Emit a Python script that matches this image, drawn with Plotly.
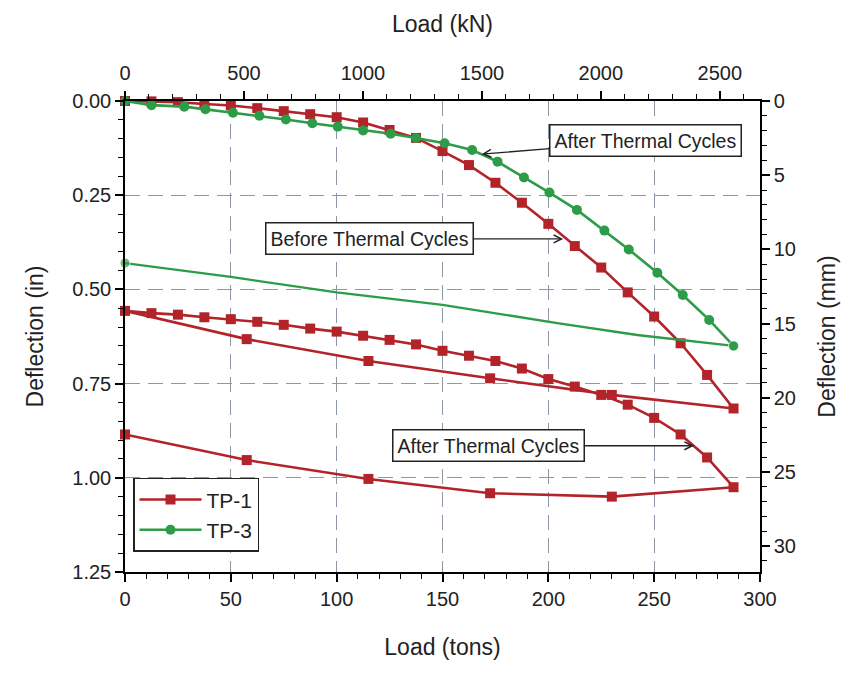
import plotly.graph_objects as go

KN_PER_TON = 8.896   # short ton -> kN
MM_PER_IN = 25.4

# ---- TP-1 ----------------------------------------------------------------
# first loading (before thermal cycles)
tp1_load_a = [0, 12.5, 25, 37.5, 50, 62.5, 75, 87.5, 100, 112.5, 125, 137.5,
              150, 162.5, 175, 187.5, 200, 212.5, 225, 237.5, 250, 262.5, 275, 287.5]
tp1_defl_a = [0.000, 0.001, 0.003, 0.008, 0.012, 0.019, 0.027, 0.035, 0.043, 0.057,
              0.077, 0.098, 0.133, 0.170, 0.217, 0.270, 0.326, 0.385, 0.442, 0.508,
              0.572, 0.643, 0.727, 0.816]
# first unloading
tp1_load_b = [230, 172.5, 115, 57.5, 0]
tp1_defl_b = [0.780, 0.736, 0.690, 0.632, 0.557]
# reloading (after thermal cycles)
tp1_load_c = [12.5, 25, 37.5, 50, 62.5, 75, 87.5, 100, 112.5, 125, 137.5,
              150, 162.5, 175, 187.5, 200, 212.5, 225, 237.5, 250, 262.5, 275, 287.5]
tp1_defl_c = [0.563, 0.567, 0.574, 0.579, 0.586, 0.594, 0.604, 0.612, 0.623, 0.634,
              0.646, 0.663, 0.676, 0.690, 0.710, 0.738, 0.758, 0.780, 0.806, 0.841,
              0.885, 0.946, 1.025]
# final unloading
tp1_load_d = [230, 172.5, 115, 57.5, 0]
tp1_defl_d = [1.050, 1.041, 1.003, 0.953, 0.885]

# ---- TP-3 ----------------------------------------------------------------
tp3_load = [0, 12.5, 28, 38, 51, 63.5, 76, 88.5, 100.5, 112.5, 125.5, 137.5,
            151, 164, 176, 188.5, 200.5, 213.5, 226.5, 238, 251.5, 263.5, 276, 287.5]
tp3_defl = [0.000, 0.011, 0.015, 0.022, 0.031, 0.039, 0.049, 0.059, 0.068, 0.078,
            0.087, 0.098, 0.112, 0.130, 0.161, 0.203, 0.243, 0.289, 0.344, 0.394,
            0.456, 0.515, 0.581, 0.650]
tp3_unload_load = [287.5, 242, 205, 150, 100, 50, 0]
tp3_unload_defl = [0.650, 0.621, 0.590, 0.541, 0.508, 0.467, 0.430]

# ---- axis ticks ----------------------------------------------------------
ton_ticks = [0, 50, 100, 150, 200, 250, 300]
kn_ticks = [0, 500, 1000, 1500, 2000, 2500]
in_ticks = [0.0, 0.25, 0.5, 0.75, 1.0, 1.25]
mm_ticks = [0, 5, 10, 15, 20, 25, 30]

RED = "#b3232a"
GREEN = "#2c9c48"
FONT = "Liberation Sans, Arial, sans-serif"
GRID = "#8d96a5"

tp1_x = tp1_load_a + tp1_load_b + tp1_load_c + tp1_load_d
tp1_y = tp1_defl_a + tp1_defl_b + tp1_defl_c + tp1_defl_d

fig = go.Figure()
fig.add_trace(go.Scatter(
    x=tp1_x, y=tp1_y, name="TP-1", mode="lines+markers", cliponaxis=False,
    line=dict(color=RED, width=2.6),
    marker=dict(symbol="square", size=10, color=RED)))
fig.add_trace(go.Scatter(
    x=tp3_load, y=tp3_defl, name="TP-3", mode="lines+markers", cliponaxis=False,
    line=dict(color=GREEN, width=2.6),
    marker=dict(symbol="circle", size=10, color=GREEN)))
fig.add_trace(go.Scatter(
    x=tp3_unload_load, y=tp3_unload_defl, mode="lines+markers", showlegend=False,
    cliponaxis=False, line=dict(color=GREEN, width=2.3),
    marker=dict(symbol="circle", color=GREEN,
                size=[10 if i in (0, len(tp3_unload_load) - 1) else 0
                      for i in range(len(tp3_unload_load))])))
# registers the secondary (kN / mm) axes
fig.add_trace(go.Scatter(x=[None], y=[None], xaxis="x2", yaxis="y2",
                         showlegend=False, hoverinfo="skip"))

tick_font = dict(family=FONT, size=20, color="#222")
title_font = dict(family=FONT, size=23, color="#222")
common = dict(showline=True, linecolor="black", linewidth=1.5, ticks="outside",
              ticklen=8, tickwidth=1.5, tickcolor="black", tickfont=tick_font,
              zeroline=False)

fig.update_layout(
    width=852, height=681,
    margin=dict(l=125, r=92, t=101, b=109, autoexpand=False),
    paper_bgcolor="white", plot_bgcolor="white",
    font=dict(family=FONT, color="#222"),
    xaxis=dict(range=[0, 300], tickvals=ton_ticks, **common,
               title=dict(text="Load (tons)", font=title_font, standoff=30),
               showgrid=True, gridcolor=GRID, gridwidth=1.3, griddash="15px,8px",
               minor=dict(dtick=10, tick0=0, ticks="outside", ticklen=5,
                          tickwidth=1.2, tickcolor="black", showgrid=False)),
    xaxis2=dict(range=[0, 300 * KN_PER_TON], tickvals=kn_ticks, overlaying="x",
                side="top", anchor="y", **common, showgrid=False,
                ticklabelstandoff=3,
                title=dict(text="Load (kN)", font=title_font, standoff=23),
                minor=dict(dtick=100, tick0=0, ticks="outside", ticklen=5,
                           tickwidth=1.2, tickcolor="black", showgrid=False)),
    yaxis=dict(range=[1.25, 0], tickvals=in_ticks, tickformat=".2f", **common,
               title=dict(text="Deflection (in)", font=title_font, standoff=22),
               showgrid=True, gridcolor=GRID, gridwidth=1.3, griddash="15px,8px",
               minor=dict(dtick=0.05, tick0=0, ticks="outside", ticklen=5,
                          tickwidth=1.2, tickcolor="black", showgrid=False)),
    yaxis2=dict(range=[1.25 * MM_PER_IN, 0], tickvals=mm_ticks, overlaying="y",
                side="right", anchor="x", **common, showgrid=False,
                title=dict(text="Deflection (mm)", font=title_font, standoff=24),
                minor=dict(dtick=1, tick0=0, ticks="outside", ticklen=5,
                           tickwidth=1.2, tickcolor="black", showgrid=False)),
    legend=dict(x=0.0126, y=0.2, xanchor="left", yanchor="top",
                bgcolor="white", bordercolor="#222", borderwidth=1.5,
                font=dict(family=FONT, size=21, color="#222"),
                itemwidth=62),
    showlegend=True,
)

box = dict(showarrow=True, arrowhead=5, arrowsize=1.1, arrowwidth=1.4,
           arrowcolor="#222", bgcolor="white", bordercolor="#222",
           borderwidth=1.5, borderpad=4,
           font=dict(family=FONT, size=19.5, color="#222"),
           xref="x", yref="y", axref="x", ayref="y")
fig.add_annotation(text="After Thermal Cycles", x=168.5, y=0.141,
                   ax=245.8, ay=0.106, **box)
fig.add_annotation(text="Before Thermal Cycles", x=207.0, y=0.366,
                   ax=115.3, ay=0.366, **box)
fig.add_annotation(text="After Thermal Cycles", x=268.8, y=0.915,
                   ax=171.5, ay=0.915, **box)

fig.write_html("out.html")
